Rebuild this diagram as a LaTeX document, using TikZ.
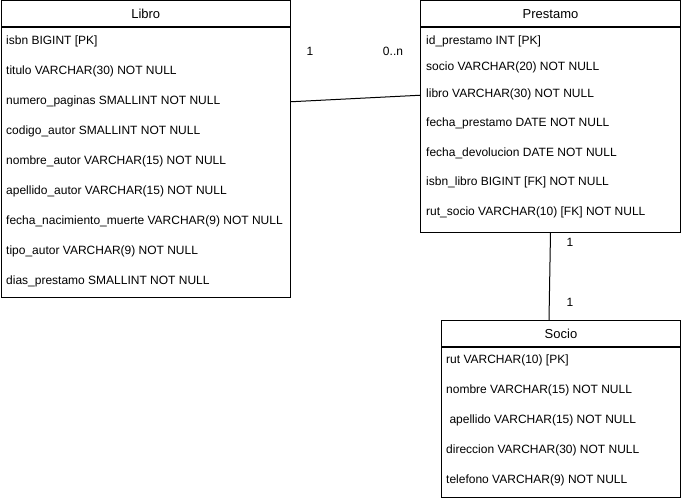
\documentclass[tikz,border=0pt]{standalone}
\usepackage{fontspec}
\setmainfont{Liberation Sans}
\begin{document}
\begin{tikzpicture}[x=1pt,y=-1pt,
  box/.style={draw=black, line width=1pt, inner sep=0pt, anchor=north west},
  hdr/.style={box, font=\fontsize{13}{15}\selectfont},
  row/.style={anchor=west, inner sep=0pt, font=\fontsize{12}{14}\selectfont},
  card/.style={inner sep=0pt, font=\fontsize{12}{14}\selectfont},
  conn/.style={draw=black, line width=1pt}]
\useasboundingbox (0,0) rectangle (681,500);
% Libro
\node[hdr, minimum width=289.5pt, minimum height=26pt] (libroh) at (0.5,0.5) {Libro};
\node[box, minimum width=289.5pt, minimum height=269.5pt] (librob) at (libroh.south west) {};
\node[row] (l1) at (6,41) {isbn BIGINT [PK]};
\node[row] (l2) at (6,71) {titulo VARCHAR(30) NOT NULL};
\node[row] (l3) at (6,101) {numero\_paginas SMALLINT NOT NULL};
\node[row] (l4) at (6,131) {codigo\_autor SMALLINT NOT NULL};
\node[row] (l5) at (6,161) {nombre\_autor VARCHAR(15) NOT NULL};
\node[row] (l6) at (6,191) {apellido\_autor VARCHAR(15) NOT NULL};
\node[row] (l7) at (6,221) {fecha\_nacimiento\_muerte VARCHAR(9) NOT NULL};
\node[row] (l8) at (6,251) {tipo\_autor VARCHAR(9) NOT NULL};
\node[row] (l9) at (6,281) {dias\_prestamo SMALLINT NOT NULL};
% Prestamo
\node[hdr, minimum width=260pt, minimum height=26pt] (presth) at (420,0.5) {Prestamo};
\node[box, minimum width=260pt, minimum height=204.5pt] (prestb) at (presth.south west) {};
\node[row] (p1) at (426,41) {id\_prestamo INT [PK]};
\node[row] (p2) at (426,67) {socio VARCHAR(20) NOT NULL};
\node[row] (p3) at (426,94) {libro VARCHAR(30) NOT NULL};
\node[row] (p4) at (426,123) {fecha\_prestamo DATE NOT NULL};
\node[row] (p5) at (426,153) {fecha\_devolucion DATE NOT NULL};
\node[row] (p6) at (426,182) {isbn\_libro BIGINT [FK] NOT NULL};
\node[row] (p7) at (426,212) {rut\_socio VARCHAR(10) [FK] NOT NULL};
% Socio
\node[hdr, minimum width=239pt, minimum height=26pt] (socioh) at (441,320) {Socio};
\node[box, minimum width=239pt, minimum height=150pt] (sociob) at (socioh.south west) {};
\node[row] (s1) at (446,360) {rut VARCHAR(10) [PK]};
\node[row] (s2) at (446,390) {nombre VARCHAR(15) NOT NULL};
\node[row] (s3) at (446,420) {\ apellido VARCHAR(15) NOT NULL};
\node[row] (s4) at (446,450) {direccion VARCHAR(30) NOT NULL};
\node[row] (s5) at (446,480) {telefono VARCHAR(9) NOT NULL};
% connectors
\draw[conn] ([yshift=61pt]librob.east) -- ([yshift=35pt]prestb.west);
\draw[conn] (prestb.south) -- ([xshift=-12pt]socioh.north);
% cardinalities
\node[card] (c1) at (310,51) {1};
\node[card] (c2) at (393,51) {0..n};
\node[card] (c3) at (570,242) {1};
\node[card] (c4) at (570,302) {1};
\end{tikzpicture}
\end{document}
